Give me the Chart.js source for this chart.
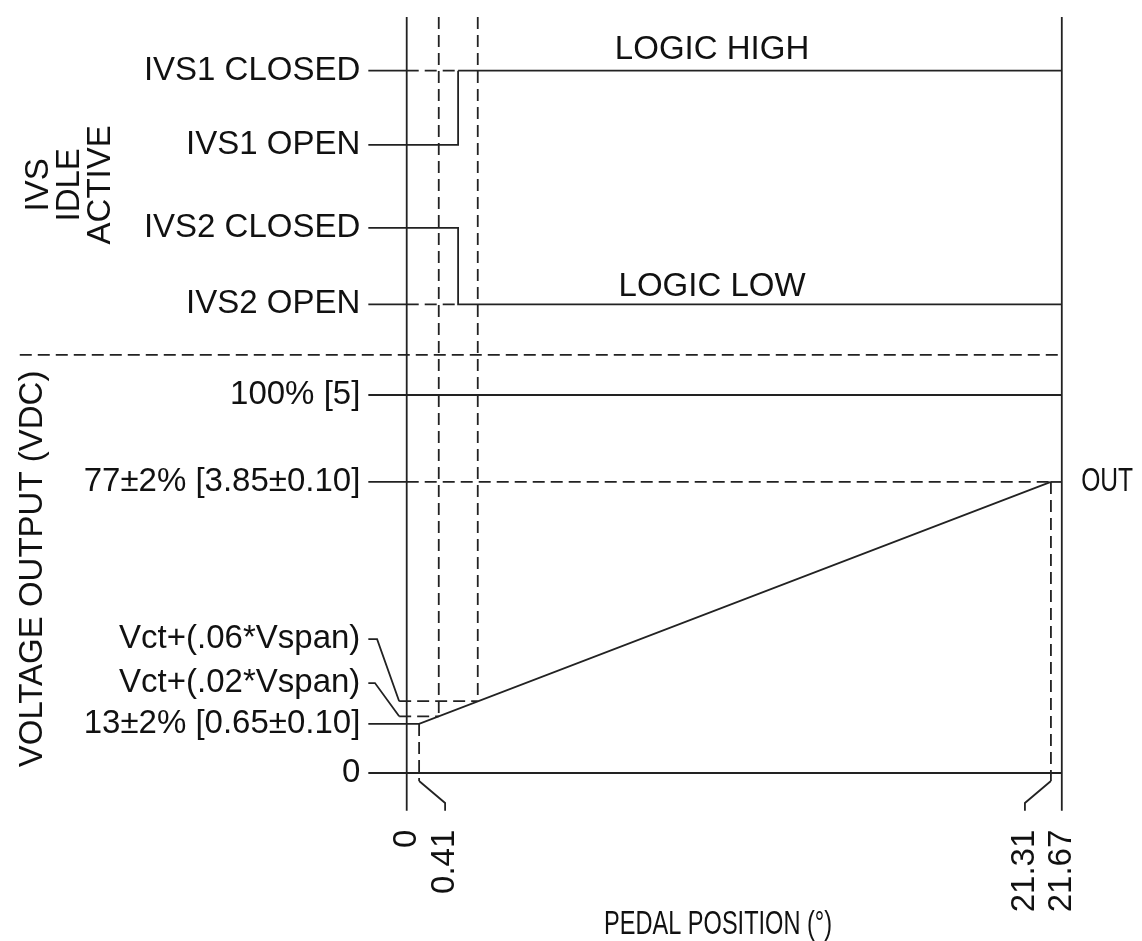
<!DOCTYPE html>
<html>
<head>
<meta charset="utf-8">
<script src="https://cdn.jsdelivr.net/npm/chart.js@4"></script>
<style>
  html, body { margin: 0; padding: 0; background: #fff; }
  #wrap { width: 1142px; height: 941px; position: relative; }
</style>
</head>
<body>
<div id="wrap"><canvas id="c"></canvas></div>
<script>
// ====== DATA ======
// pedal position (deg) ticks on the bottom
const xTickValues  = [0, 0.41, 21.31, 21.67];
const xTickLabels  = ["0", "0.41", "21.31", "21.67"];
const xLabelAnchor = [0, 1.27, 20.45, 21.67];   // where the leader ends

// level names on the left, their value, and where the text sits
const levelNames  = ["IVS1 CLOSED", "IVS1 OPEN", "IVS2 CLOSED", "IVS2 OPEN", "100% [5]",
                     "77±2% [3.85±0.10]", "Vct+(.06*Vspan)", "Vct+(.02*Vspan)", "13±2% [0.65±0.10]", "0"];
const levelValues = [9.29, 8.31, 7.21, 6.20, 5, 3.85, 0.95, 0.75, 0.65, 0];
const levelTextAt = [9.29, 8.31, 7.21, 6.20, 5, 3.85, 1.77, 1.19, 0.65, 0];

// output curve (deg, volts)
const outX = [0.41, 21.31];
const outV = [0.65, 3.85];

// switch step and idle limit positions (deg)
const ivsSwitchAt = 1.70;
const idleLimitX  = [1.06, 2.35];   // where Vct+.02 / Vct+.06 meet the output

const separatorAt = 5.53;
const axisTop = 10.0, axisBottom = -0.50;
const tickStart = -1.27;
const xMax = 21.67;

// ====== SEGMENTS ======
const P = (x, y) => ({ x, y });
const [ivs1C, ivs1O, ivs2C, ivs2O, full, outHi, vct06, vct02, outLo, zero] = levelValues;

const solid = [
  [P(0, axisBottom), P(0, axisTop)],
  [P(xMax, axisBottom), P(xMax, axisTop)],
  // IVS1
  [P(tickStart, ivs1C), P(0, ivs1C)],
  [P(ivsSwitchAt, ivs1C), P(xMax, ivs1C)],
  [P(tickStart, ivs1O), P(ivsSwitchAt, ivs1O), P(ivsSwitchAt, ivs1C)],
  // IVS2
  [P(tickStart, ivs2C), P(ivsSwitchAt, ivs2C), P(ivsSwitchAt, ivs2O), P(xMax, ivs2O)],
  [P(tickStart, ivs2O), P(0, ivs2O)],
  // voltage levels
  [P(tickStart, full), P(xMax, full)],
  [P(tickStart, outHi), P(0, outHi)],
  [P(outX[1], outHi), P(xMax, outHi)],
  [P(tickStart, outLo), P(outX[0], outV[0]), P(outX[1], outV[1])],
  [P(tickStart, zero), P(xMax, zero)],
  // leaders
  [P(tickStart, levelTextAt[6]), P(-0.98, levelTextAt[6]), P(-0.25, vct06)],
  [P(tickStart, levelTextAt[7]), P(-1.05, levelTextAt[7]), P(-0.25, vct02)],
  [P(outX[0], -0.106), P(xLabelAnchor[1], -0.397), P(xLabelAnchor[1], axisBottom)],
  [P(outX[1], -0.106), P(xLabelAnchor[2], -0.397), P(xLabelAnchor[2], axisBottom)]
];

const dashed = [
  [P(0, ivs1C), P(ivsSwitchAt, ivs1C)],
  [P(0, ivs2O), P(ivsSwitchAt, ivs2O)],
  [P(idleLimitX[0], axisTop), P(idleLimitX[0], vct02)],
  [P(idleLimitX[1], axisTop), P(idleLimitX[1], vct06)],
  [P(-12.8, separatorAt), P(xMax, separatorAt)],
  [P(0, outHi), P(outX[1], outHi)],
  [P(-0.25, vct06), P(idleLimitX[1], vct06)],
  [P(-0.25, vct02), P(idleLimitX[0], vct02)],
  [P(outX[0], outV[0]), P(outX[0], -0.106)],
  [P(outX[1], outV[1]), P(outX[1], -0.106)]
];

const INK = "#222";
const datasets = [
  ...solid.map(d => ({ data: d, borderColor: INK, borderWidth: 1.8 })),
  ...dashed.map(d => ({ data: d, borderColor: INK, borderWidth: 1.8, borderDash: [12, 6] }))
].map(ds => ({ ...ds, showLine: true, pointRadius: 0, fill: false, tension: 0 }));

// ====== TEXT PLUGIN ======
const FONT = "Liberation Sans";
const textPlugin = {
  id: "texts",
  afterDatasetsDraw(chart) {
    const { ctx, scales: { x, y } } = chart;
    ctx.save();
    ctx.fillStyle = "#111";
    ctx.font = `33px "${FONT}"`;
    ctx.textBaseline = "middle";

    // squeezed text, to stand in for the narrower faces of the drawing
    const squeezed = (t, px, py, width, align) => {
      ctx.save();
      ctx.translate(px, py);
      ctx.scale(width / ctx.measureText(t).width, 1);
      ctx.textAlign = align;
      ctx.fillText(t, 0, 0);
      ctx.restore();
    };

    // left level labels
    ctx.textAlign = "right";
    levelNames.forEach((t, i) => {
      ctx.fillText(t, x.getPixelForValue(tickStart) - 8, y.getPixelForValue(levelTextAt[i]));
    });

    // free labels
    ctx.textAlign = "center";
    ctx.fillText("LOGIC HIGH", x.getPixelForValue(10.1), y.getPixelForValue(9.56));
    ctx.fillText("LOGIC LOW", x.getPixelForValue(10.1), y.getPixelForValue(6.43));
    squeezed("OUT", x.getPixelForValue(22.31), y.getPixelForValue(outHi), 52, "left");
    squeezed("PEDAL POSITION (°)", x.getPixelForValue(10.3), y.getPixelForValue(-2.01), 228, "center");

    // rotated x tick labels
    xTickLabels.forEach((t, i) => {
      ctx.save();
      ctx.translate(x.getPixelForValue(xLabelAnchor[i]), y.getPixelForValue(-0.75));
      ctx.rotate(-Math.PI / 2);
      ctx.textAlign = "right";
      ctx.fillText(t, 0, 0);
      ctx.restore();
    });

    // rotated axis titles
    const vert = (t, xv, yv) => {
      ctx.save();
      ctx.translate(x.getPixelForValue(xv), y.getPixelForValue(yv));
      ctx.rotate(-Math.PI / 2);
      ctx.textAlign = "center";
      ctx.fillText(t, 0, 0);
      ctx.restore();
    };
    vert("VOLTAGE OUTPUT (VDC)", -12.36, 2.70);
    vert("IVS", -12.16, 7.78);
    vert("IDLE", -11.13, 7.78);
    vert("ACTIVE", -10.11, 7.78);
    ctx.restore();
  }
};

// ====== CHART ======
new Chart(document.getElementById("c"), {
  type: "scatter",
  data: { datasets },
  options: {
    responsive: true,
    maintainAspectRatio: false,
    animation: false,
    layout: { padding: 0 },
    scales: {
      x: { type: "linear", display: false, min: -13.454, max: 24.323 },
      y: { type: "linear", display: false, min: -2.222, max: 10.225 }
    },
    plugins: { legend: { display: false }, tooltip: { enabled: false } }
  },
  plugins: [textPlugin]
});
</script>
</body>
</html>
